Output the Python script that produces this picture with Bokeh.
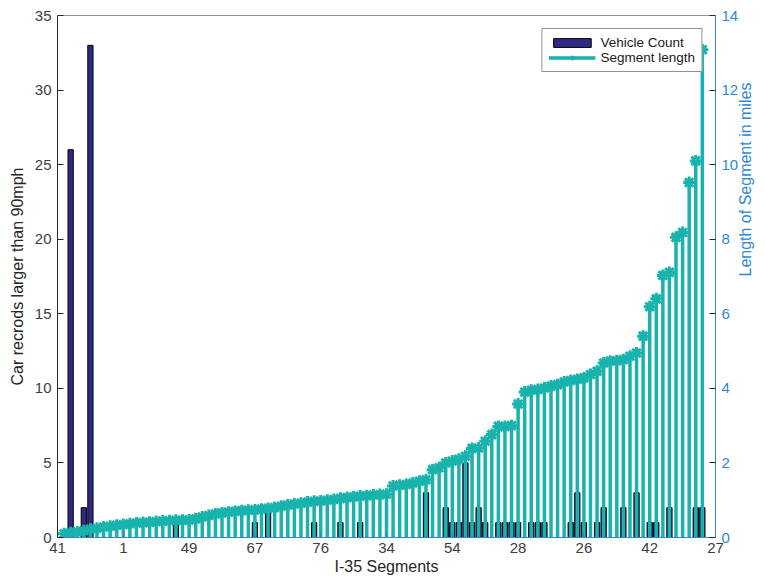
import math
from bokeh.plotting import figure
from bokeh.models import Range1d, LinearAxis, FixedTicker, Legend, LegendItem, Span
from bokeh.embed import file_html
from bokeh.resources import INLINE

# ---------------- data ----------------
segment_index = list(range(1, 99))

segment_length = [
    0.10, 0.13, 0.15, 0.18, 0.22, 0.25, 0.28, 0.30, 0.33, 0.35,
    0.37, 0.39, 0.40, 0.41, 0.43, 0.44, 0.45, 0.46, 0.46, 0.47,
    0.50, 0.55, 0.59, 0.63, 0.66, 0.68, 0.70, 0.72, 0.73, 0.74,
    0.76, 0.78, 0.80, 0.84, 0.87, 0.90, 0.92, 0.95, 0.97, 0.98,
    1.00, 1.02, 1.05, 1.07, 1.09, 1.11, 1.12, 1.14, 1.15, 1.16,
    1.38, 1.40, 1.42, 1.46, 1.51, 1.55, 1.82, 1.87, 2.00, 2.05,
    2.10, 2.18, 2.39, 2.40, 2.58, 2.76, 2.98, 2.98, 3.00, 3.58,
    3.90, 3.95, 3.97, 4.01, 4.06, 4.10, 4.17, 4.21, 4.24, 4.28,
    4.37, 4.46, 4.68, 4.73, 4.74, 4.77, 4.86, 4.95, 5.40, 6.19,
    6.40, 7.03, 7.11, 8.05, 8.18, 9.52, 10.10, 13.08,
]

vehicle_count = [
    0, 26, 0, 2, 33, 0, 0, 0, 0, 0,
    0, 0, 0, 0, 0, 0, 0, 1, 0, 0,
    0, 0, 0, 0, 0, 0, 0, 0, 0, 1,
    0, 2, 0, 0, 0, 0, 0, 0, 1, 0,
    0, 0, 1, 0, 0, 1, 0, 0, 0, 0,
    0, 0, 0, 0, 0, 3, 0, 0, 2, 1,
    1, 5, 1, 2, 1, 0, 1, 1, 1, 1,
    0, 1, 1, 1, 0, 0, 0, 1, 3, 1,
    0, 1, 2, 0, 0, 2, 0, 3, 0, 1,
    1, 0, 2, 0, 0, 0, 2, 2,
]

x_tick_positions = [0, 10, 20, 30, 40, 50, 60, 70, 80, 90, 100]
x_tick_labels = ["41", "1", "49", "67", "76", "34", "54", "28", "26", "42", "27"]
left_ticks = [0, 5, 10, 15, 20, 25, 30, 35]
right_ticks = [0, 2, 4, 6, 8, 10, 12, 14]

# ---------------- style ----------------
FONT = "Liberation Sans"
NAVY = "#302a86"
CYAN = "#17b3ac"
BLUE = "#2f86d6"
DARK = "#262626"
GRAY = "#3c3c3c"

p = figure(
    width=765, height=584,
    x_range=Range1d(0, 100), y_range=Range1d(0, 35),
    output_backend="svg", toolbar_location=None,
    min_border_left=57, min_border_right=49,
    min_border_top=15, min_border_bottom=47,
    background_fill_color="white", border_fill_color="white",
    outline_line_color=None,
)
p.extra_y_ranges = {"len": Range1d(0, 14)}
p.xgrid.visible = False
p.ygrid.visible = False

# bars (vehicle count, left axis)
bar_x = [i for i, c in zip(segment_index, vehicle_count) if c > 0]
bar_top = [c for c in vehicle_count if c > 0]
bars = p.vbar(x=bar_x, top=bar_top, bottom=0, width=0.8,
              fill_color=NAVY, line_color="black", line_width=1)

# stems (segment length, right axis)
stems = p.segment(x0=segment_index, y0=[0] * len(segment_index),
                  x1=segment_index, y1=segment_length,
                  y_range_name="len", line_color=CYAN, line_width=3.5)
marks = p.scatter(segment_index, segment_length, y_range_name="len",
                  marker="asterisk", size=12, line_color=CYAN, line_width=3)

# top border
p.add_layout(Span(location=35, dimension="width", line_color=DARK, line_width=1))

# left axis
ya = p.yaxis[0]
ya.ticker = FixedTicker(ticks=left_ticks)
ya.axis_label = "Car recrods larger than 90mph"
ya.axis_line_color = DARK
ya.major_tick_line_color = DARK
ya.major_tick_in = 6
ya.major_tick_out = 0
ya.minor_tick_line_color = None
ya.major_label_standoff = 6
ya.axis_label_standoff = 6
ya.major_label_text_font = FONT
ya.major_label_text_font_size = "15px"
ya.major_label_text_color = GRAY
ya.axis_label_text_font = FONT
ya.axis_label_text_font_size = "16px"
ya.axis_label_text_font_style = "normal"
ya.axis_label_text_color = DARK

# bottom axis
xa = p.xaxis[0]
xa.ticker = FixedTicker(ticks=x_tick_positions)
xa.major_label_overrides = {t: s for t, s in zip(x_tick_positions, x_tick_labels)}
xa.axis_label = "I-35 Segments"
xa.axis_line_color = BLUE
xa.major_tick_line_color = BLUE
xa.major_tick_in = 6
xa.major_tick_out = 0
xa.minor_tick_line_color = None
xa.major_label_standoff = 5
xa.axis_label_standoff = 2
xa.major_label_text_font = FONT
xa.major_label_text_font_size = "15px"
xa.major_label_text_color = GRAY
xa.axis_label_text_font = FONT
xa.axis_label_text_font_size = "16px"
xa.axis_label_text_font_style = "normal"
xa.axis_label_text_color = DARK

# right axis
ra = LinearAxis(y_range_name="len", ticker=FixedTicker(ticks=right_ticks),
                axis_label="Length of Segment in miles")
ra.axis_line_color = BLUE
ra.major_tick_line_color = DARK
ra.major_tick_in = 6
ra.major_tick_out = 0
ra.minor_tick_line_color = None
ra.major_label_standoff = 6
ra.axis_label_standoff = 4
ra.major_label_text_font = FONT
ra.major_label_text_font_size = "15px"
ra.major_label_text_color = BLUE
ra.axis_label_text_font = FONT
ra.axis_label_text_font_size = "16px"
ra.axis_label_text_font_style = "normal"
ra.axis_label_text_color = BLUE
try:
    ra.axis_label_orientation = math.pi / 2
except Exception:
    pass
p.add_layout(ra, "right")

# legend
legend = Legend(
    items=[
        LegendItem(label="Vehicle Count", renderers=[bars]),
        LegendItem(label="Segment length", renderers=[stems, marks]),
    ],
    location="top_right",
    margin=13, padding=6, spacing=0,
    glyph_width=47, glyph_height=11, label_height=15, label_standoff=5,
    label_text_font=FONT, label_text_font_size="13.5px", label_text_color="#1a1a1a",
    border_line_color=DARK, border_line_width=1,
    background_fill_color="white", background_fill_alpha=1.0,
)
p.add_layout(legend)

open("out.html", "w").write(file_html(p, INLINE))
